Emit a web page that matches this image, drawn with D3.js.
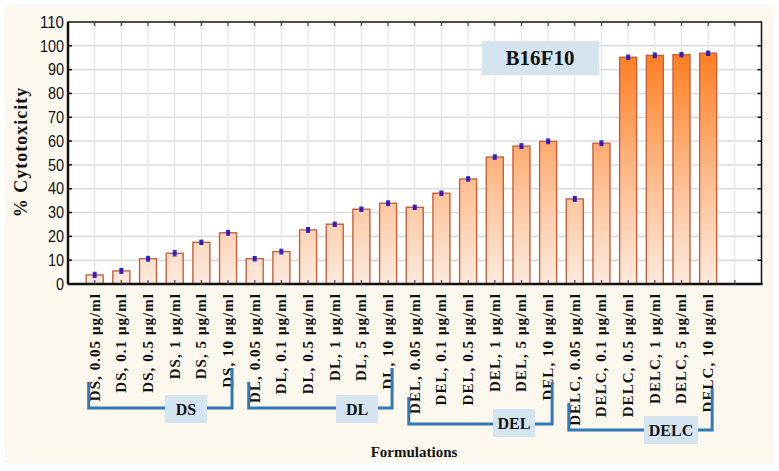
<!DOCTYPE html>
<html><head><meta charset="utf-8">
<script src="https://cdn.jsdelivr.net/npm/d3@7"></script>
<style>body{margin:0;background:#fff}svg{display:block}</style>
</head><body>
<script>
const categories = ["DS, 0.05 μg/ml","DS, 0.1 μg/ml","DS, 0.5 μg/ml","DS, 1 μg/ml","DS, 5 μg/ml","DS, 10 μg/ml",
 "DL, 0.05 μg/ml","DL, 0.1 μg/ml","DL, 0.5 μg/ml","DL, 1 μg/ml","DL, 5 μg/ml","DL, 10 μg/ml",
 "DEL, 0.05 μg/ml","DEL, 0.1 μg/ml","DEL, 0.5 μg/ml","DEL, 1 μg/ml","DEL, 5 μg/ml","DEL, 10 μg/ml",
 "DELC, 0.05 μg/ml","DELC, 0.1 μg/ml","DELC, 0.5 μg/ml","DELC, 1 μg/ml","DELC, 5 μg/ml","DELC, 10 μg/ml"];
const values = [3.8,5.5,10.6,12.9,17.5,21.5, 10.6,13.6,22.7,25.1,31.4,33.9, 32.2,38.1,44.1,53.3,57.9,59.9, 35.7,59.1,95.2,96.0,96.3,96.9];
const errors = [0.7,0.6,0.6,0.7,0.5,0.6, 0.5,0.6,0.6,0.5,0.5,0.6, 0.5,0.5,0.5,0.5,0.6,0.6, 0.6,0.6,0.5,0.6,0.5,0.5];
const yTicks = [0,10,20,30,40,50,60,70,80,90,100,110];
const groups = [{name:"DS",from:0,to:5},{name:"DL",from:6,to:11},{name:"DEL",from:12,to:17},{name:"DELC",from:18,to:23}];
const chartLabel = "B16F10";
const yTitle = "% Cytotoxicity";
const xTitle = "Formulations";

const W=779,H=471;
const svg=d3.select("body").append("svg").attr("width",W).attr("height",H);
svg.append("rect").attr("x",0).attr("y",0).attr("width",W).attr("height",H).attr("fill","#fff");
svg.append("rect").attr("x",5).attr("y",5).attr("width",768).attr("height",458).attr("fill","#fdf8ed");

const L=68,R=761.5,T=22,B=284;
const x=d3.scaleLinear().domain([0,categories.length+2]).range([L,R]);
const y=d3.scaleLinear().domain([0,110]).range([B,T]);
svg.append("rect").attr("x",L).attr("y",T).attr("width",R-L).attr("height",B-T).attr("fill","#fff");

// gradient
const defs=svg.append("defs");
const g=defs.append("linearGradient").attr("id","bg").attr("gradientUnits","userSpaceOnUse")
 .attr("x1",0).attr("x2",0).attr("y1",y(0)).attr("y2",y(100));
g.append("stop").attr("offset",0).attr("stop-color","#fdeade");
g.append("stop").attr("offset",0.35).attr("stop-color","#fdc7a0");
g.append("stop").attr("offset",1).attr("stop-color","#ff7a1a");

// grid
const xs=d3.range(1,categories.length+2);
svg.append("g").selectAll("line").data(yTicks.slice(1,-1)).join("line")
 .attr("x1",L).attr("x2",R).attr("y1",d=>y(d)).attr("y2",d=>y(d)).attr("stroke","#dcdcdc").attr("stroke-width",1.5);
svg.append("g").selectAll("line").data(xs).join("line")
 .attr("x1",d=>x(d)).attr("x2",d=>x(d)).attr("y1",T).attr("y2",B).attr("stroke","#e6e6e6").attr("stroke-width",1.2);

// bars
const bw=17;
svg.append("g").selectAll("rect").data(values).join("rect")
 .attr("x",(d,i)=>x(i+1)-bw/2).attr("width",bw).attr("y",d=>y(d)).attr("height",d=>B-y(d))
 .attr("fill","url(#bg)").attr("stroke","#c9603a").attr("stroke-width",1.4);

// error bars
const eg=svg.append("g").attr("stroke","#2a1cc8").attr("fill","#2a1cc8");
values.forEach((v,i)=>{
  const cx=x(i+1);
  eg.append("line").attr("x1",cx).attr("x2",cx).attr("y1",y(v+errors[i])-1).attr("y2",y(v-errors[i])+1).attr("stroke-width",1.2);
  eg.append("line").attr("x1",cx-2).attr("x2",cx+2).attr("y1",y(v+errors[i])-1).attr("y2",y(v+errors[i])-1).attr("stroke-width",1);
  eg.append("line").attr("x1",cx-2).attr("x2",cx+2).attr("y1",y(v-errors[i])+1).attr("y2",y(v-errors[i])+1).attr("stroke-width",1);
  eg.append("rect").attr("x",cx-2).attr("y",y(v)-2).attr("width",4).attr("height",4).attr("stroke","none");
});

// frame and axes
svg.append("rect").attr("x",L).attr("y",T).attr("width",R-L).attr("height",B-T).attr("fill","none").attr("stroke","#111").attr("stroke-width",1.5);
svg.append("line").attr("x1",L).attr("x2",R+1).attr("y1",B).attr("y2",B).attr("stroke","#111").attr("stroke-width",2.5);
svg.append("line").attr("x1",L).attr("x2",L).attr("y1",T).attr("y2",B).attr("stroke","#111").attr("stroke-width",2.5);
// inward ticks
svg.append("g").selectAll("line").data(yTicks.slice(1,-1)).join("line")
 .attr("x1",L).attr("x2",L+4).attr("y1",d=>y(d)).attr("y2",d=>y(d)).attr("stroke","#111").attr("stroke-width",1.5);
svg.append("g").selectAll("line").data(yTicks.slice(1,-1)).join("line")
 .attr("x1",R-4).attr("x2",R).attr("y1",d=>y(d)).attr("y2",d=>y(d)).attr("stroke","#111").attr("stroke-width",1.5);
svg.append("g").selectAll("line").data(xs).join("line")
 .attr("x1",d=>x(d)).attr("x2",d=>x(d)).attr("y1",B-4).attr("y2",B).attr("stroke","#444").attr("stroke-width",1.2);
svg.append("g").selectAll("line").data(xs).join("line")
 .attr("x1",d=>x(d)).attr("x2",d=>x(d)).attr("y1",T).attr("y2",T+4).attr("stroke","#444").attr("stroke-width",1.2);

// y tick labels
svg.append("g").selectAll("text").data(yTicks).join("text")
 .attr("x",L-4).attr("y",d=>y(d)).attr("dy","0.36em").attr("text-anchor","end")
 .attr("font-family","Liberation Sans, Arial, sans-serif").attr("font-size",16).attr("fill","#111")
 .attr("textLength",d=>String(d).length*8).attr("lengthAdjust","spacingAndGlyphs")
 .text(d=>d);

// y title
svg.append("text").attr("transform",`translate(27,152) rotate(-90)`).attr("text-anchor","middle")
 .attr("font-family","Liberation Serif, Times New Roman, serif").attr("font-weight","bold").attr("font-size",18)
 .attr("letter-spacing","1").attr("fill","#111").text(yTitle);

// x labels
svg.append("g").selectAll("text").data(categories).join("text")
 .attr("transform",(d,i)=>`translate(${x(i+1)+5},293) rotate(-90)`).attr("text-anchor","end")
 .attr("font-family","Liberation Serif, Times New Roman, serif").attr("font-weight","bold").attr("font-size",15)
 .attr("letter-spacing","1.05").attr("fill","#111").text(d=>d);

// group brackets
const bracketY=[408,408,424,430];
const leftTop=[382,382,397,403];
const rightTop=[368,368,382,388];
const boxY=[395,395,409,416];
const boxX=[165,336,493,644];
groups.forEach((gr,k)=>{
  const x1=x(gr.from+1)-6, x2=x(gr.to+1)+4, by=bracketY[k];
  svg.append("path").attr("d",`M${x1},${leftTop[k]}V${by}H${x2}V${rightTop[k]}`)
   .attr("fill","none").attr("stroke","#2f7bb8").attr("stroke-width",3);
  const bwid=gr.name.length>3?54:42;
  const bh=28;
  const bx = boxX[k];
  svg.append("rect").attr("x",bx).attr("y",boxY[k]).attr("width",bwid).attr("height",bh).attr("fill","#d5e4f1");
  svg.append("text").attr("x",bx+bwid/2).attr("y",boxY[k]+bh/2).attr("dy","0.35em").attr("text-anchor","middle")
   .attr("font-family","Liberation Serif, Times New Roman, serif").attr("font-weight","bold").attr("font-size",16)
   .attr("fill","#111").text(gr.name);
});

// x title
svg.append("text").attr("x",414).attr("y",457).attr("text-anchor","middle")
 .attr("font-family","Liberation Serif, Times New Roman, serif").attr("font-weight","bold").attr("font-size",15)
 .attr("fill","#111").text(xTitle);

// B16F10 label
svg.append("rect").attr("x",482).attr("y",41).attr("width",117).attr("height",34).attr("fill","#d6e4f0");
svg.append("text").attr("x",540).attr("y",58).attr("dy","0.35em").attr("text-anchor","middle")
 .attr("font-family","Liberation Serif, Times New Roman, serif").attr("font-weight","bold").attr("font-size",21)
 .attr("fill","#111").text(chartLabel);
</script>
</body></html>
